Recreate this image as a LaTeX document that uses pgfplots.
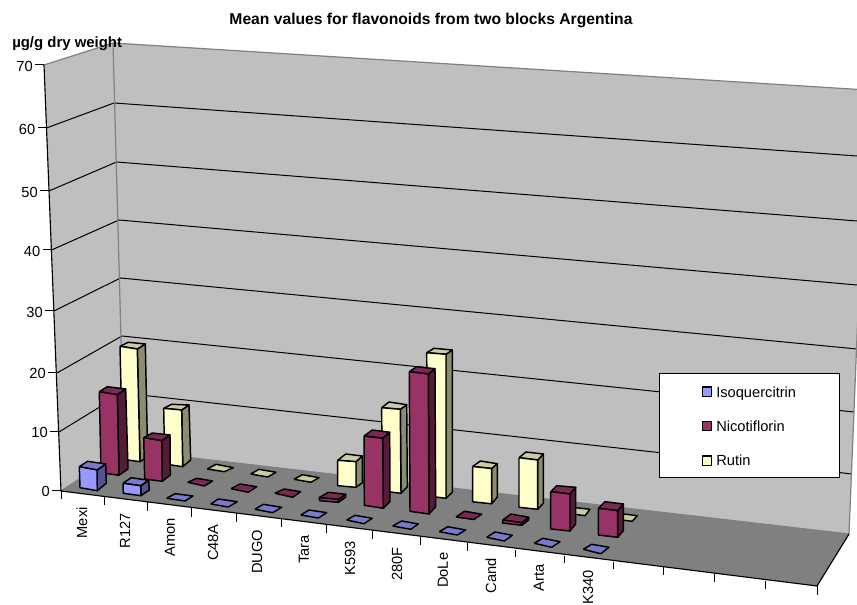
\documentclass[border=0pt]{standalone}
\usepackage{fontspec}
\setmainfont{Liberation Sans}
\usepackage{pgfplots}
\pgfplotsset{compat=1.18}

\definecolor{iso}{HTML}{9999FF}
\definecolor{nic}{HTML}{993366}
\definecolor{rut}{HTML}{FFFFCC}

% one bar: colour, front face (4 points), two back top corners, lower side corner
\newcommand{\cuboid}[8]{%
  \addplot[draw=black,line width=1.1pt,line join=round,fill=#1!55!black] coordinates {(#3) (#7) (#8) (#4) (#3)};
  \addplot[draw=black,line width=1.1pt,line join=round,fill=#1!80!black] coordinates {(#2) (#6) (#7) (#3) (#2)};
  \addplot[draw=black,line width=1.1pt,line join=round,fill=#1] coordinates {(#2) (#3) (#4) (#5) (#2)};
}
% a zero value only shows its top face
\newcommand{\flatbar}[5]{%
  \addplot[draw=black,line width=1.1pt,line join=round,fill=#1!80!black] coordinates {(#2) (#3) (#4) (#5) (#2)};
}
\newcommand{\grid}[1]{\addplot[black,line width=0.75pt] coordinates {#1};}
\newcommand{\edge}[1]{\addplot[gray,line width=0.9pt] coordinates {#1};}

\begin{document}
\begin{tikzpicture}[font=\fontsize{11}{13}\selectfont]
\path[use as bounding box] (0,0) rectangle (642.75pt,453.75pt);
\begin{axis}[
  at={(0,0)}, anchor=south west,
  scale only axis, width=642.75pt, height=453.75pt,
  xmin=0, xmax=857, ymin=0, ymax=605, y dir=reverse,
  hide axis, clip=true,
]
% walls and floor
\addplot[fill=black!25,draw=none] coordinates {(44,65) (113,43) (124,450) (61,491) (44,65)};
\addplot[fill=black!25,draw=none] coordinates {(113,43) (867,90) (849,534) (124,450) (113,43)};

\grid{(46.5,128) (114,103) (857,156)}
\grid{(49,191) (116.5,162) (857,221)}
\grid{(51.5,250) (119,220) (857,285)}
\grid{(54,311) (120.5,278) (857,349)}
\grid{(57,373) (122,336) (854,412)}
\grid{(59,432) (122.5,393) (852,474)}

\addplot[fill=gray,draw=none] coordinates {(61,491) (124,450) (849,534) (817,586) (61,491)};

\edge{(44,65) (113,43) (867,90)}
\edge{(113,43) (124,450)}
\edge{(867,90) (849,534)}
\edge{(61,491) (124,450) (849,534)}

% axis lines and ticks
\addplot[black,line width=0.85pt] coordinates {(44,65) (61,491) (817,586) (849,534)};
\grid{(35,65) (44,65)}
\grid{(37.5,128) (46.5,128)}
\grid{(40,191) (49,191)}
\grid{(42.5,250) (51.5,250)}
\grid{(45,311) (54,311)}
\grid{(48,373) (57,373)}
\grid{(50,432) (59,432)}
\grid{(52,491) (61,491)}
\grid{(61,491) (61,499)}
\grid{(104,497) (104,505)}
\grid{(147.7,502) (147.7,511)}
\grid{(191,508) (191,517)}
\grid{(236,513) (236,522)}
\grid{(281,518) (281,527)}
\grid{(326.7,525) (326.7,533)}
\grid{(372.7,530.7) (372.7,539)}
\grid{(420,537) (420,545)}
\grid{(467,543) (467,551)}
\grid{(515,550) (515,557)}
\grid{(564,556) (564,563)}
\grid{(613,562) (613,569)}
\grid{(663,567) (663,575)}
\grid{(714,574) (714,582)}
\grid{(765,581) (765,589)}
\grid{(817,586) (817,595)}

% Rutin
\cuboid{rut}{120,346.3}{137.3,349}{140,461.7}{122.7,459.3}{128.3,342.3}{145.3,344}{147.7,456.7}
\cuboid{rut}{163.7,408.3}{181.7,410}{182.7,466.7}{164.7,464}{171.7,404.3}{189,405}{190.7,460}
\flatbar{rut}{207.3,469}{216,464.3}{233.3,467.7}{224.3,471.7}
\flatbar{rut}{250.7,474}{259,469.3}{276,472.3}{267.7,477}
\flatbar{rut}{294,479.3}{302.3,474.7}{319,477.7}{311,482.3}
\cuboid{rut}{337.7,460.3}{356,461.7}{356,487.3}{337.7,485.7}{345.7,454}{362.3,456}{362.3,482.7}
\cuboid{rut}{381.7,407.7}{400.3,409.3}{401,493.3}{382,491}{389,402}{406.7,404.7}{407.3,486.7}
\cuboid{rut}{426.7,352.7}{446,354.3}{446,498.3}{427.5,496}{434,348.3}{452.3,350}{452.3,492.3}
\cuboid{rut}{472.7,466.5}{491.7,468.5}{491.7,503.8}{472.7,501.8}{480.3,461}{497.3,463.7}{497.3,497}
\cuboid{rut}{519,457.7}{537.7,460}{537.7,509.3}{519,507.3}{526,452}{543.3,454}{543.3,503.3}
\flatbar{rut}{567.3,513.3}{575.7,507.7}{590,509.3}{585,515.7}
\flatbar{rut}{615.7,519.3}{624,514}{637.3,515.7}{632.3,521.3}

% Nicotiflorin
\cuboid{nic}{99.3,391.7}{117.3,394.7}{119,475.3}{101,472.7}{107.3,386.7}{125.7,389}{128,469}
\cuboid{nic}{143.7,437.7}{161.7,440.7}{162.3,481.3}{144.7,479}{152.3,433}{170,435}{170.3,475}
\flatbar{nic}{187.7,482.3}{196.7,478.3}{212.7,481}{204.3,486}
\flatbar{nic}{231,488.7}{240,484}{256.7,486.7}{248.3,492.3}
\flatbar{nic}{275,493.3}{284,489}{300.7,491.7}{292.7,497.3}
\cuboid{nic}{319,497.7}{338.3,499.3}{338.3,502.3}{320,500.7}{328.3,492.3}{345.7,494.3}{345.7,497.3}
\cuboid{nic}{364,436}{382.7,438.3}{383.3,508.3}{364.3,505.3}{372.3,430}{389.7,432.3}{390,501.7}
\cuboid{nic}{409.3,371.7}{428.3,374}{429,514}{410,511.3}{416.7,366.7}{435,368.7}{435.7,506.7}
\flatbar{nic}{456,517}{464.5,511.2}{481.7,514.2}{474,519.5}
\cuboid{nic}{502.7,520}{521.7,522.7}{521.7,525.3}{502.7,523}{511,514}{528.7,517.3}{528.7,520}
\cuboid{nic}{550.7,491.7}{570,494}{570,531}{550.7,529}{556.7,485.7}{575.7,487.3}{575.7,524}
\cuboid{nic}{598.3,508.3}{617.7,510.7}{617.7,537.3}{598.3,535}{605,501.7}{623.3,504}{623.3,530.7}

% Isoquercitrin
\cuboid{iso}{79.3,466.7}{97,470}{97.3,490.7}{80,487.7}{87.5,461.3}{105.7,464}{106.3,483.3}
\cuboid{iso}{123,483.3}{140.7,485.7}{141,495.7}{123.3,493.3}{131.3,477.7}{148.7,480.3}{149.3,490}
\flatbar{iso}{166.7,498.3}{175,493.7}{193,496}{185,501}
\flatbar{iso}{210.7,504}{218.3,499}{237.3,501.7}{228.3,507}
\flatbar{iso}{255,509.3}{263.3,504.3}{281.7,507.3}{272.7,512.7}
\flatbar{iso}{300.7,515}{309,510}{326.7,512.7}{318.3,518}
\flatbar{iso}{346.7,520}{355,515.3}{372.3,518.3}{364,523.7}
\flatbar{iso}{392.7,526}{401.7,521}{418.3,524}{410.7,529.3}
\flatbar{iso}{439.3,531.7}{447.7,526.7}{465.7,530}{457.3,535}
\flatbar{iso}{486.7,537.3}{495,532}{512.3,535.3}{504.3,541}
\flatbar{iso}{534.3,543.3}{542.7,538.3}{560,541.7}{551.7,547.3}
\flatbar{iso}{583.3,549.3}{591.7,544.3}{609,547.3}{600.7,553.7}

% legend box
\addplot[fill=white,draw=black,line width=0.75pt] coordinates {(659,374) (839,374) (839,478) (659,478) (659,374)};
\addplot[fill=iso,draw=black,line width=1.1pt] coordinates {(702.3,387) (711.7,387) (711.7,396.3) (702.3,396.3) (702.3,387)};
\addplot[fill=nic,draw=black,line width=1.1pt] coordinates {(702.3,421.7) (711.7,421.7) (711.7,430.7) (702.3,430.7) (702.3,421.7)};
\addplot[fill=rut,draw=black,line width=1.1pt] coordinates {(702.3,456) (711.7,456) (711.7,465.3) (702.3,465.3) (702.3,456)};
\node[anchor=base west,inner sep=0pt] at (axis cs:716,397.3) {Isoquercitrin};
\node[anchor=base west,inner sep=0pt] at (axis cs:716,432) {Nicotiflorin};
\node[anchor=base west,inner sep=0pt] at (axis cs:716,466) {Rutin};

% value labels
\node[anchor=east,inner sep=0pt] at (axis cs:33,66) {70};
\node[anchor=east,inner sep=0pt] at (axis cs:35.5,129) {60};
\node[anchor=east,inner sep=0pt] at (axis cs:38,192) {50};
\node[anchor=east,inner sep=0pt] at (axis cs:40.5,251) {40};
\node[anchor=east,inner sep=0pt] at (axis cs:43,312) {30};
\node[anchor=east,inner sep=0pt] at (axis cs:46,373) {20};
\node[anchor=east,inner sep=0pt] at (axis cs:48,432) {10};
\node[anchor=east,inner sep=0pt] at (axis cs:50,491) {0};

% category labels
\node[anchor=east,rotate=90,inner sep=0pt] at (axis cs:82,507) {Mexi};
\node[anchor=east,rotate=90,inner sep=0pt] at (axis cs:125,513) {R127};
\node[anchor=east,rotate=90,inner sep=0pt] at (axis cs:170,518) {Amon};
\node[anchor=east,rotate=90,inner sep=0pt] at (axis cs:213,524) {C48A};
\node[anchor=east,rotate=90,inner sep=0pt] at (axis cs:257,529.5) {DUGO};
\node[anchor=east,rotate=90,inner sep=0pt] at (axis cs:304,535) {Tara};
\node[anchor=east,rotate=90,inner sep=0pt] at (axis cs:350,541) {K593};
\node[anchor=east,rotate=90,inner sep=0pt] at (axis cs:397,547) {280F};
\node[anchor=east,rotate=90,inner sep=0pt] at (axis cs:443,552.5) {DoLe};
\node[anchor=east,rotate=90,inner sep=0pt] at (axis cs:491,558) {Cand};
\node[anchor=east,rotate=90,inner sep=0pt] at (axis cs:539,564) {Arta};
\node[anchor=east,rotate=90,inner sep=0pt] at (axis cs:588,570) {K340};

\node[font=\fontsize{11.75}{14}\selectfont\bfseries] at (axis cs:431,20) {Mean values for flavonoids from two blocks Argentina};
\node[anchor=west,inner sep=0pt,font=\fontsize{11.2}{13}\selectfont\bfseries] at (axis cs:12,44) {µg/g dry weight};
\end{axis}
\end{tikzpicture}
\end{document}
